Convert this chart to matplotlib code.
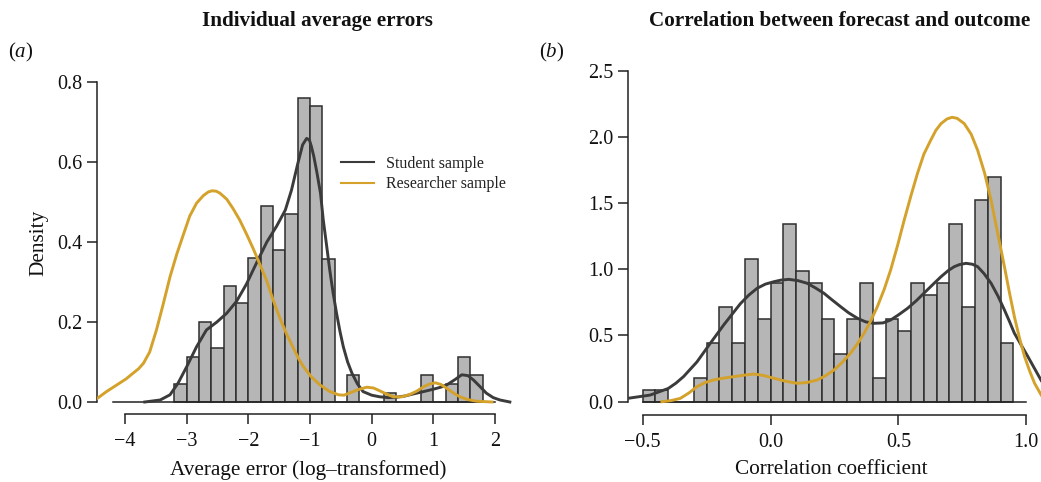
import numpy as np
import matplotlib
matplotlib.use("Agg")
import matplotlib.pyplot as plt

plt.rcParams['font.family'] = ['Liberation Serif', 'DejaVu Serif']
plt.rcParams['mathtext.fontset'] = 'custom'
plt.rcParams['mathtext.rm'] = 'Liberation Serif'
plt.rcParams['mathtext.it'] = 'Liberation Serif:italic'

# ---- panel (a): individual average errors (log-transformed)
err_left_edges = [-3.2, -3.0, -2.8, -2.6, -2.4, -2.2, -2.0, -1.8, -1.6, -1.4, -1.2, -1.0, -0.8,
                  -0.6, -0.4, -0.2, 0.0, 0.2, 0.4, 0.6, 0.8, 1.0, 1.2, 1.4, 1.6]
err_density = [0.045, 0.112, 0.20, 0.134, 0.29, 0.247, 0.36, 0.49, 0.38, 0.47, 0.76, 0.74, 0.358,
               0.0, 0.067, 0.0, 0.0, 0.022, 0.0, 0.0, 0.067, 0.0, 0.045, 0.112, 0.067]
err_binw = 0.2

stud_err_x = [-3.68, -3.43, -3.27, -3.14, -3.0, -2.84, -2.68, -2.51, -2.35, -2.19, -2.03, -1.86,
              -1.70, -1.54, -1.40, -1.30, -1.20, -1.12, -1.055, -1.01, -0.98, -0.94, -0.89,
              -0.83, -0.785, -0.73, -0.68, -0.625, -0.57, -0.515, -0.46, -0.39, -0.32, -0.23,
              -0.14, 0.0, 0.13, 0.27, 0.405, 0.54, 0.67, 0.84, 1.0, 1.12, 1.22, 1.35, 1.46,
              1.56, 1.65, 1.76, 1.86, 1.97, 2.08, 2.24]
stud_err_y = [0.0, 0.005, 0.018, 0.047, 0.088, 0.138, 0.18, 0.2, 0.222, 0.252, 0.295, 0.35,
              0.40, 0.44, 0.48, 0.53, 0.595, 0.643, 0.659, 0.655, 0.64, 0.615, 0.575,
              0.522, 0.455, 0.39, 0.33, 0.272, 0.222, 0.177, 0.138, 0.1, 0.072, 0.045,
              0.026, 0.017, 0.013, 0.011, 0.012, 0.015, 0.02, 0.026, 0.032, 0.037, 0.043, 0.056, 0.068,
              0.066, 0.055, 0.038, 0.022, 0.011, 0.005, 0.0]

res_err_x = [-4.45, -4.30, -4.13, -3.98, -3.87, -3.78, -3.70, -3.60, -3.49, -3.38, -3.27, -3.16,
             -3.05, -2.95, -2.84, -2.73, -2.65, -2.59, -2.52, -2.46, -2.35, -2.25, -2.14, -2.03,
             -1.92, -1.81, -1.70, -1.60, -1.49, -1.38, -1.27, -1.19, -1.11, -0.98, -0.84, -0.69,
             -0.54, -0.45, -0.35, -0.22, -0.08, 0.03, 0.13, 0.24, 0.35, 0.49, 0.62, 0.73, 0.84,
             0.94, 1.03, 1.12, 1.22, 1.33, 1.43, 1.56, 1.70, 1.95]
res_err_y = [0.009, 0.026, 0.043, 0.058, 0.072, 0.083, 0.097, 0.125, 0.18, 0.245, 0.313, 0.37,
             0.42, 0.465, 0.497, 0.516, 0.525, 0.528, 0.527, 0.522, 0.507, 0.484, 0.455, 0.42,
             0.383, 0.343, 0.302, 0.256, 0.21, 0.17, 0.135, 0.11, 0.089, 0.063, 0.043, 0.027,
             0.018, 0.017, 0.023, 0.031, 0.037, 0.035, 0.028, 0.02, 0.013, 0.013, 0.019, 0.027, 0.038,
             0.045, 0.048, 0.044, 0.034, 0.022, 0.013, 0.006, 0.002, 0.0]

# ---- panel (b): correlation between forecast and outcome
cor_left_edges = [-0.50, -0.45, -0.40, -0.35, -0.30, -0.25, -0.20, -0.15, -0.10, -0.05, 0.00,
                  0.05, 0.10, 0.15, 0.20, 0.25, 0.30, 0.35, 0.40, 0.45, 0.50, 0.55, 0.60,
                  0.65, 0.70, 0.75, 0.80, 0.85, 0.90]
cor_density = [0.088, 0.088, 0.0, 0.0, 0.176, 0.446, 0.717, 0.446, 1.075, 0.627, 0.899,
               1.344, 0.984, 0.896, 0.627, 0.357, 0.627, 0.896, 0.176, 0.627, 0.536, 0.896, 0.806,
               0.896, 1.344, 0.717, 1.523, 1.70, 0.446]
cor_binw = 0.05

stud_cor_x = [-0.556, -0.471, -0.40, -0.37, -0.34, -0.288, -0.236, -0.183, -0.118, -0.085, -0.052,
              -0.02, 0.013, 0.04, 0.072, 0.108, 0.144, 0.175, 0.209, 0.24, 0.274, 0.305, 0.34,
              0.372, 0.405, 0.44, 0.47, 0.50, 0.536, 0.57, 0.60, 0.635, 0.667, 0.695, 0.719, 0.74,
              0.765, 0.79, 0.81, 0.835, 0.863, 0.89, 0.915, 0.935, 0.954, 0.98, 1.007, 1.033, 1.059]
stud_cor_y = [0.026, 0.05, 0.10, 0.14, 0.19, 0.30, 0.44, 0.58, 0.74, 0.805, 0.857,
              0.888, 0.906, 0.918, 0.924, 0.914, 0.894, 0.86, 0.819, 0.77, 0.718, 0.672, 0.63,
              0.603, 0.592, 0.595, 0.617, 0.655, 0.705, 0.762, 0.819, 0.885, 0.944, 0.99, 1.02, 1.036,
              1.045, 1.038, 1.02, 0.968, 0.894, 0.797, 0.693, 0.605, 0.517, 0.43, 0.34, 0.25, 0.16]

res_cor_x = [-0.425, -0.39, -0.353, -0.32, -0.288, -0.255, -0.223, -0.184, -0.144, -0.105, -0.066,
             -0.027, 0.013, 0.058, 0.104, 0.143, 0.183, 0.215, 0.248, 0.28, 0.313, 0.34, 0.366,
             0.392, 0.418, 0.445, 0.47, 0.497, 0.523, 0.55, 0.575, 0.60, 0.627, 0.647, 0.667,
             0.69, 0.71, 0.73, 0.758, 0.785, 0.81, 0.837, 0.863, 0.889, 0.915, 0.935, 0.954,
             0.974, 0.994, 1.014, 1.033, 1.059]
res_cor_y = [0.0, 0.008, 0.025, 0.065, 0.113, 0.145, 0.164, 0.178, 0.189, 0.2, 0.209,
             0.198, 0.177, 0.155, 0.139, 0.145, 0.164, 0.196, 0.239, 0.296, 0.366, 0.437, 0.517,
             0.61, 0.718, 0.85, 0.995, 1.18, 1.372, 1.56, 1.725, 1.87, 1.976, 2.05, 2.10,
             2.135, 2.148, 2.14, 2.10, 2.02, 1.90, 1.73, 1.52, 1.27, 1.02, 0.82, 0.642,
             0.48, 0.34, 0.23, 0.139, 0.05]

BAR = '#b6b6b6'
EDGE = '#2e2e2e'
DARK = '#3b3b3b'
GOLD = '#d4a22b'

W, H = 1041, 482
fig = plt.figure(figsize=(W / 100, H / 100), dpi=100)


def px_axes(x0, x1, y_top, y_bot):
    return fig.add_axes([x0 / W, 1 - y_bot / H, (x1 - x0) / W, (y_bot - y_top) / H])


def style(ax, xb, yb, xticks, yticks, xfmt, yfmt, outward):
    for s in ('top', 'right'):
        ax.spines[s].set_visible(False)
    ax.spines['left'].set_bounds(*yb)
    ax.spines['bottom'].set_bounds(*xb)
    ax.spines['bottom'].set_position(('outward', outward))
    for s in ('left', 'bottom'):
        ax.spines[s].set_linewidth(1.1)
        ax.spines[s].set_color('#222222')
    ax.set_xticks(xticks)
    ax.set_yticks(yticks)
    ax.set_xticklabels([xfmt(v).replace('-', '\u2212') for v in xticks])
    ax.set_yticklabels([yfmt(v) for v in yticks])
    ax.tick_params(axis='both', direction='out', length=7.2, width=1.1, color='#222222',
                   labelsize=14.5, labelcolor='#111111')
    ax.tick_params(axis='x', pad=6)
    ax.tick_params(axis='y', pad=3)


# left panel
ax1 = px_axes(97, 512, 70, 406)
ax1.set_xlim(-4.454, 2.275)
ax1.set_ylim(-0.01, 0.83)
ax1.bar(err_left_edges, err_density, width=err_binw, align='edge', color=BAR,
        edgecolor=EDGE, linewidth=1.1, zorder=2)
ax1.plot([-4.2, 2.0], [0, 0], color='#222222', lw=1.1, zorder=2)
ax1.plot(stud_err_x, stud_err_y, color=DARK, lw=2.1, zorder=3, label='Student sample',
         solid_joinstyle='round')
ax1.plot(res_err_x, res_err_y, color=GOLD, lw=2.1, zorder=3, label='Researcher sample',
         solid_joinstyle='round')
style(ax1, (-4, 2), (0, 0.8), [-4, -3, -2, -1, 0, 1, 2], [0, 0.2, 0.4, 0.6, 0.8],
      lambda v: '%d' % v, lambda v: '%.1f' % v, 5.8)
leg = ax1.legend(loc='upper left', bbox_to_anchor=(0.587, 0.745), frameon=False,
                 fontsize=11.5, handlelength=2.1, handletextpad=0.75, labelspacing=0.3,
                 borderpad=0, borderaxespad=0)
for t in leg.get_texts():
    t.set_color('#222222')
for l in leg.get_lines():
    l.set_linewidth(1.5)

# right panel
ax2 = px_axes(627.7, 1041, 70, 406)
ax2.set_xlim(-0.5587, 1.0581)
ax2.set_ylim(-0.0325, 2.505)
ax2.bar(cor_left_edges, cor_density, width=cor_binw, align='edge', color=BAR,
        edgecolor=EDGE, linewidth=1.1, zorder=2)
ax2.plot([-0.5, 1.0], [0, 0], color='#222222', lw=1.1, zorder=2)
ax2.plot(stud_cor_x, stud_cor_y, color=DARK, lw=2.1, zorder=3, solid_joinstyle='round')
ax2.plot(res_cor_x, res_cor_y, color=GOLD, lw=2.1, zorder=3, solid_joinstyle='round')
style(ax2, (-0.5, 1.0), (0, 2.5), [-0.5, 0.0, 0.5, 1.0], [0, 0.5, 1.0, 1.5, 2.0, 2.5],
      lambda v: '%.1f' % v, lambda v: '%.1f' % v, 6.5)

# texts
def ftext(x, y, s, **kw):
    fig.text(x / W, 1 - y / H, s, **kw)

ftext(317, 21, 'Individual average errors', ha='center', va='center', fontsize=15.2,
      fontweight='bold', color='#111111')
ftext(840, 21, 'Correlation between forecast and outcome', ha='center', va='center',
      fontsize=15.2, fontweight='bold', color='#111111')
ftext(8, 52, r'$(a)$', ha='left', va='center', fontsize=15, color='#111111')
ftext(539, 52, r'$(b)$', ha='left', va='center', fontsize=15, color='#111111')
ftext(39, 243, 'Density', ha='center', va='center', rotation=90, fontsize=15.3, color='#111111')
ftext(308, 470, 'Average error (log\u2013transformed)', ha='center', va='center',
      fontsize=15.3, color='#111111')
ftext(831, 470, 'Correlation coefficient', ha='center', va='center', fontsize=15.3,
      color='#111111')

fig.savefig('out.png', dpi=100)
